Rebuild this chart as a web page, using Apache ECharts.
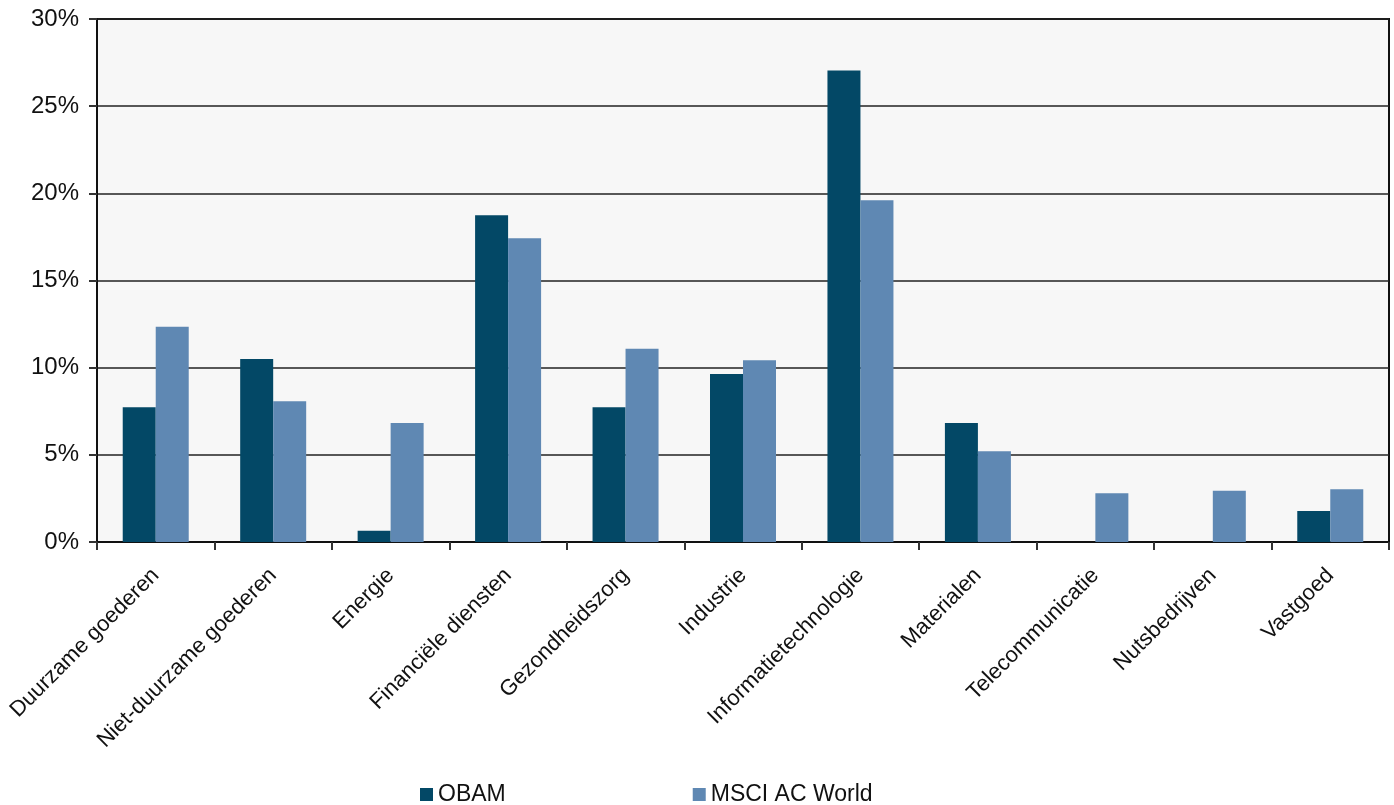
<!DOCTYPE html>
<html>
<head>
<meta charset="utf-8">
<script src="https://cdn.jsdelivr.net/npm/echarts@6/dist/echarts.min.js"></script>
<style>
html,body{margin:0;padding:0;background:#fff;}
#c{width:1394px;height:805px;}
</style>
</head>
<body>
<div id="c"></div>
<script>
const categories = ['Duurzame goederen','Niet-duurzame goederen','Energie','Financiële diensten','Gezondheidszorg','Industrie','Informatietechnologie','Materialen','Telecommunicatie','Nutsbedrijven','Vastgoed'];
const obam = [7.73, 10.5, 0.65, 18.74, 7.73, 9.64, 27.04, 6.83, 0, 0, 1.78];
const msci = [12.34, 8.07, 6.83, 17.42, 11.09, 10.42, 19.6, 5.2, 2.8, 2.94, 3.02];
const seriesNames = ['OBAM', 'MSCI AC World'];
const yTicks = [0, 5, 10, 15, 20, 25, 30];

const font = 'Liberation Sans, Arial, sans-serif';
const chart = echarts.init(document.getElementById('c'));
chart.setOption({
  animation: false,
  backgroundColor: '#ffffff',
  textStyle: { fontFamily: font },
  grid: {
    left: 97, right: 5, top: 19, bottom: 263,
    show: true, backgroundColor: '#f7f7f7', borderColor: '#111', borderWidth: 2
  },
  legend: {
    data: seriesNames,
    left: 420, top: 783, padding: 0,
    itemWidth: 13, itemHeight: 13, itemGap: 187,
    icon: 'rect',
    textStyle: { fontSize: 23, color: '#111', fontFamily: font }
  },
  xAxis: {
    type: 'category',
    data: categories,
    axisLine: { lineStyle: { color: '#111', width: 2 } },
    axisTick: { show: true, length: 8, lineStyle: { color: '#333', width: 2 } },
    axisLabel: { rotate: 45, fontSize: 22, color: '#111', margin: 30, interval: 0, fontFamily: font }
  },
  yAxis: {
    type: 'value',
    min: yTicks[0], max: yTicks[yTicks.length - 1], interval: 5,
    axisLine: { show: true, lineStyle: { color: '#111', width: 2 } },
    axisTick: { show: true, length: 8, lineStyle: { color: '#333', width: 2 } },
    axisLabel: { formatter: '{value}%', fontSize: 24, color: '#111', margin: 18, fontFamily: font },
    splitLine: { show: true, lineStyle: { color: '#222', width: 1.5 } }
  },
  series: [
    {
      name: seriesNames[0], type: 'bar', data: obam,
      barWidth: 33, barGap: '0%',
      itemStyle: { color: '#034866' }
    },
    {
      name: seriesNames[1], type: 'bar', data: msci,
      barWidth: 33, barGap: '0%',
      itemStyle: { color: '#5f88b3' }
    }
  ]
});
</script>
</body>
</html>
